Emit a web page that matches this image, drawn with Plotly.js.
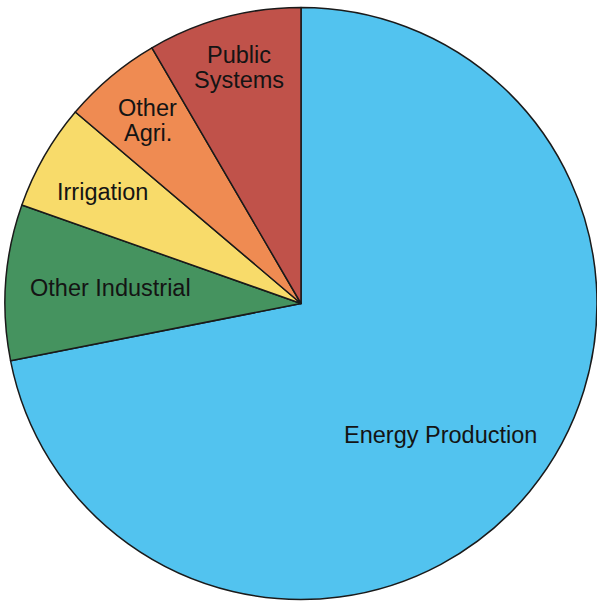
<!DOCTYPE html>
<html>
<head>
<meta charset="utf-8">
<script src="https://cdn.plot.ly/plotly-3.0.1.min.js"></script>
<style>
  html, body { margin: 0; padding: 0; background: #ffffff; }
  #chart { width: 597px; height: 606px; }
</style>
</head>
<body>
<div id="chart"></div>
<script>
// Water use by sector (share of total, %)
const categories = ["Energy Production", "Other Industrial", "Irrigation", "Other Agri.", "Public Systems"];
const shares = [71.9, 8.5, 5.8, 5.4, 8.4];
const labelLines = [["Energy Production"], ["Other Industrial"], ["Irrigation"], ["Other", "Agri."], ["Public", "Systems"]];

const sliceColors = ["#52c3ef", "#45935f", "#f8db6a", "#ef8b52", "#c0524a"];

// label placement: fraction of the radius and small angular nudge (degrees)
const labelRadius = [0.649, 0.647, 0.767, 0.807, 0.825];
const labelNudge = [3.8, 0.5, -0.6, 0, 0.5];
const lineStep = 25;   // px between stacked label lines
const labelFont = { family: "Liberation Sans, Arial, sans-serif", size: 23.5, color: "#141414" };

const W = 597, H = 606;
const cx = 301, cy = 303.5, R = 296;

const domainX = [(cx - R) / W, Math.min(1, (cx + R) / W)];
const domainY = [(H - cy - R) / H, (H - cy + R) / H];

// mid-angle of each slice, clockwise from 12 o'clock
const total = shares.reduce((a, b) => a + b, 0);
let acc = 0;
const annotations = [];
shares.forEach((v, i) => {
  const mid = (acc + v / 2) / total * 360 + labelNudge[i];
  acc += v;
  const t = mid * Math.PI / 180;
  const px = cx + labelRadius[i] * R * Math.sin(t);
  const py = cy - labelRadius[i] * R * Math.cos(t);
  const lines = labelLines[i];
  lines.forEach((line, k) => {
    annotations.push({
      text: line,
      x: px / W,
      y: 1 - py / H,
      xref: "paper",
      yref: "paper",
      xanchor: "center",
      yanchor: "middle",
      yshift: -((k - (lines.length - 1) / 2) * lineStep),
      showarrow: false,
      align: "center",
      font: labelFont
    });
  });
});

const trace = {
  type: "pie",
  labels: categories,
  values: shares,
  sort: false,
  direction: "clockwise",
  rotation: 0,
  textinfo: "none",
  hoverinfo: "none",
  marker: { colors: sliceColors, line: { color: "#1a1a1a", width: 1.5 } },
  domain: { x: domainX, y: domainY }
};

const layout = {
  width: W,
  height: H,
  margin: { l: 0, r: 0, t: 0, b: 0 },
  paper_bgcolor: "#ffffff",
  showlegend: false,
  annotations: annotations
};

Plotly.newPlot("chart", [trace], layout, { displayModeBar: false, staticPlot: true });
</script>
</body>
</html>
